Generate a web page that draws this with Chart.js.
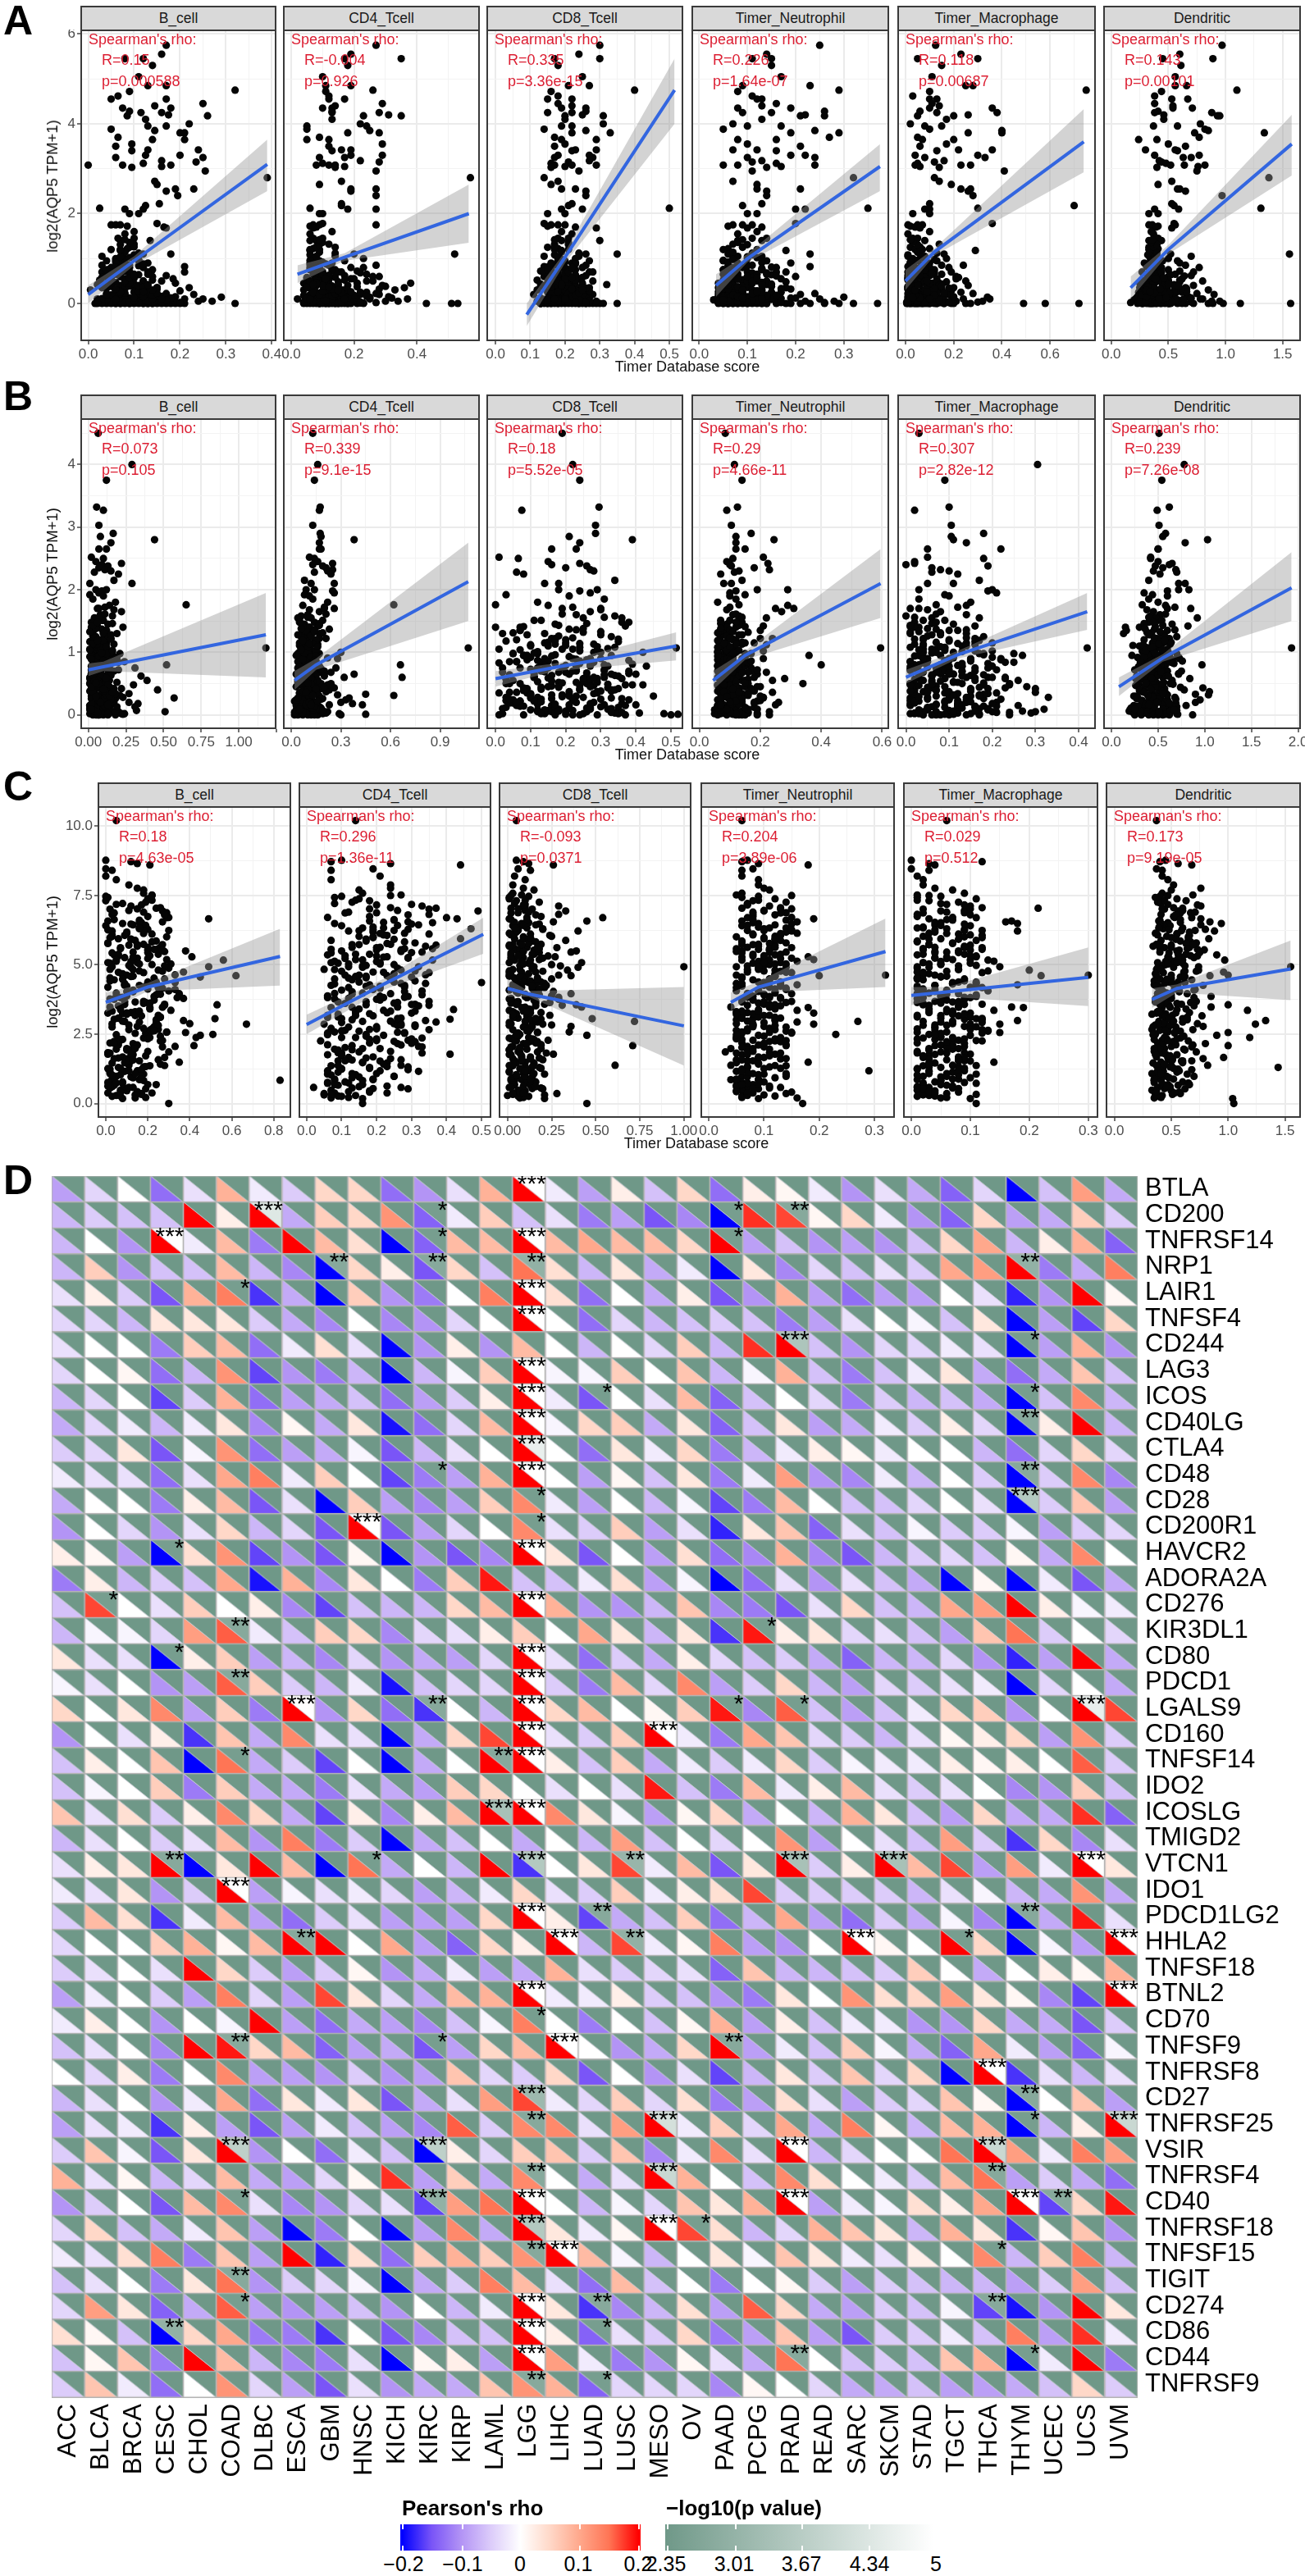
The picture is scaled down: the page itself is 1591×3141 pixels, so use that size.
<!DOCTYPE html>
<html>
<head>
<meta charset="utf-8">
<title>AQP5 immune correlation</title>
<script src="https://cdn.jsdelivr.net/npm/chart.js@4"></script>
<style>
  html, body { margin: 0; padding: 0; background: #fff; }
  #page { position: relative; width: 1591px; height: 3141px; overflow: hidden; font-family: "Liberation Sans", Arial, sans-serif; }
  #page canvas { position: absolute; }
  .txt { position: absolute; white-space: nowrap; line-height: 1; }
  .box { position: absolute; box-sizing: border-box; border: 2px solid #3a3a3a; }
  .strip { background: #d9d9d9; display: flex; align-items: center; justify-content: center; color: #1a1a1a;
           font: 17.5px "Liberation Sans Narrow", "Liberation Sans", sans-serif; }
</style>
</head>
<body>
<div id="page"></div>
<script>
// --- panel labels ---
const cellTypes = ['B_cell', 'CD4_Tcell', 'CD8_Tcell', 'Timer_Neutrophil', 'Timer_Macrophage', 'Dendritic'];
const rhoA = ['R=0.15', 'R=-0.004', 'R=0.335', 'R=0.226', 'R=0.118', 'R=0.143'];
const pA = ['p=0.000588', 'p=0.926', 'p=3.36e-15', 'p=1.64e-07', 'p=0.00687', 'p=0.00101'];
const rhoB = ['R=0.073', 'R=0.339', 'R=0.18', 'R=0.29', 'R=0.307', 'R=0.239'];
const pB = ['p=0.105', 'p=9.1e-15', 'p=5.52e-05', 'p=4.66e-11', 'p=2.82e-12', 'p=7.26e-08'];
const rhoC = ['R=0.18', 'R=0.296', 'R=-0.093', 'R=0.204', 'R=0.029', 'R=0.173'];
const pC = ['p=4.63e-05', 'p=1.36e-11', 'p=0.0371', 'p=3.89e-06', 'p=0.512', 'p=9.19e-05'];

// --- tick labels ---
const yTicksA = ['0', '2', '4', '6'];
const yTicksB = ['0', '1', '2', '3', '4'];
const yTicksC = ['0.0', '2.5', '5.0', '7.5', '10.0'];
const xTicksA = [['0.0','0.1','0.2','0.3','0.4'], ['0.0','0.2','0.4'], ['0.0','0.1','0.2','0.3','0.4','0.5'], ['0.0','0.1','0.2','0.3'], ['0.0','0.2','0.4','0.6'], ['0.0','0.5','1.0','1.5']];
const xTicksB = [['0.00','0.25','0.50','0.75','1.00'], ['0.0','0.3','0.6','0.9'], ['0.0','0.1','0.2','0.3','0.4','0.5'], ['0.0','0.2','0.4','0.6'], ['0.0','0.1','0.2','0.3','0.4'], ['0.0','0.5','1.0','1.5','2.0']];
const xTicksC = [['0.0','0.2','0.4','0.6','0.8'], ['0.0','0.1','0.2','0.3','0.4','0.5'], ['0.00','0.25','0.50','0.75','1.00'], ['0.0','0.1','0.2','0.3'], ['0.0','0.1','0.2','0.3'], ['0.0','0.5','1.0','1.5']];

// --- panel A samples: AQP5 value, then score for each cell type ---
const yA = [5.75,5.55,5.45,5.45,5.3,5.05,4.85,4.85,4.75,4.72,
4.62,4.55,4.55,4.45,4.4,4.35,4.35,4.28,4.25,4.25,
4.18,4.18,4.1,4.2,4,3.95,3.95,3.88,3.85,3.8,
3.8,3.7,3.65,3.65,3.55,3.5,3.42,3.42,3.4,3.3,
3.3,3.25,3.25,3.18,3.15,3.12,3.08,3.08,3.08,3.05,
3.03,2.95,2.8,2.72,2.65,2.55,2.55,2.5,2.4,2.22,
2.18,2.12,2.1,2.1,2,2,1.78,1.75,1.75,1.75,
1.72,1.7,1.68,1.6,1.55,1.45,1.45,1.4,1.4,1.32,
1.25,1.22,1.2,1.18,1.1,1.1,1.05,1.05,1,1,
.95,.95,.9,.9,.85,.85,.82,.8,.8,.75,
.75,.72,.7,.7,.65,.65,.62,.6,.6,.55,
.55,.52,.5,.5,.48,.45,.45,.42,.4,.4,
.38,.35,.35,.32,.3,.3,.28,.25,.25,.22,
.22,.2,.2,.18,.15,.15,.12,.12,.1,.1,
.08,.08,.05,.05,.05,.03,.03,.02,.02,0,
0,0,0,0,0,0,0,0,0,0,
0,0,0,0,0,0,0,0,0,0,
.1,.15,.2,.25,.3,.35,.4,.45,.5,.55,
.6,.7,.8,.05,.12,.18,.22,.28,.33,.37,
.42,.47,.52,.58,.64,.68,.05,.1,.14,.03,
.02,0,.04,0,.07,.03,0,.1,.01,.05,
.13,0,.06,.02,.09,.16,0,.04,.12,.01,
.19,.07,0,.23,.03,.11,.26,.05,0,.15,
.29,.08,.02,.18,.34,.06,.01,.21,.12,.38,
.04,.27,.09,.43,.16,.03,.31,.47,.07,.2,
.51,.11,.36,.02,.25,.56,.14,.41,.05,.61,
.3,.09,.66,.17,.46,.01,.71,.24,.53,.12,
.76,.33,.06,.58,.19,.81,.39,.03,.86,.27,
.63,.1,.91,.44,.22,.96,.68,.15,.49,.35,
1.02,.73,.28,.54,.08,1.08,.78,.4,.6,.18,
1.14,.84,.32,.65,.13,1.2,.88,.45,.7,.23,
1.26,.92,.5,.02,.37,1.31,.98,.57,.75,.3,
1.36,1.04,.62,.1,.42,1.42,1.12,.8,.26,.55];
const xA_bcell = [.17,.16,.08,.12,.14,.11,.17,.13,.32,.09,
.065,.05,.17,.25,.145,.075,.18,.09,.115,.16,
.085,.26,.125,.175,.22,.13,.17,.05,.145,.2,
.21,.065,.14,.21,.095,.06,.13,.24,.095,.2,
.125,.06,.25,.16,.235,.12,0,.075,.18,.16,
.095,.255,.39,.145,.15,.23,.19,.17,.195,.155,
.125,.025,.08,.12,.09,.11,.15,.05,.06,.07,
.085,.165,.17,.1,.08,.065,.1,.07,.135,.1,
.09,.085,.05,.07,.18,.12,.03,.1,.06,.08,
.04,.11,.07,.13,.03,.09,.21,.05,.12,.045,
.14,.08,.21,.03,.06,.1,.17,.04,.14,.185,
.08,.025,.12,.16,.05,.09,.19,.02,.07,.13,
.11,.03,.22,.15,.005,.06,.2,.1,.13,.04,
.17,.23,.07,.12,.05,.19,.09,.14,.02,.21,
.03,.11,.16,.06,.24,.08,.13,.04,.19,.015,
.03,.05,.07,.09,.11,.13,.15,.17,.19,.21,
.02,.04,.06,.08,.1,.12,.14,.16,.2,.32,
.05,.11,.08,.13,.06,.15,.1,.04,.12,.09,
.07,.13,.09,.15,.07,.11,.06,.14,.08,.1,
.12,.06,.14,.09,.11,.07,.27,.25,.29,.16,
.03,.06,.09,.12,.15,.05,.18,.08,.11,.02,
.14,.07,.1,.17,.04,.13,.09,.06,.16,.12,
.05,.11,.14,.08,.19,.03,.1,.07,.13,.17,
.06,.12,.09,.15,.04,.11,.08,.14,.18,.05,
.1,.07,.13,.03,.16,.09,.06,.12,.15,.04,
.08,.14,.11,.02,.07,.1,.17,.05,.13,.09,
.12,.06,.04,.15,.08,.11,.09,.14,.05,.18,
.07,.13,.1,.03,.12,.06,.09,.16,.08,.11,
.05,.14,.08,.1,.13,.06,.07,.12,.09,.15,
.09,.06,.12,.08,.17,.1,.05,.11,.07,.14,
.08,.11,.06,.13,.1,.07,.12,.09,.05,.15,
.1,.06,.08,.2,.12,.07,.11,.09,.04,.14,
.09,.07,.1,.16,.13,.08,.11,.06,.12,.05];
const xA_cd4 = [.27,.19,.17,.35,.18,.1,.11,.19,.26,.11,
.12,.17,.12,.29,.14,.13,.1,.13,.28,.13,
.23,.35,.13,.31,.22,.24,.05,.05,.25,.28,
.18,.09,.12,.05,.29,.12,.19,.16,.13,.19,
.29,.09,.17,.22,.28,.1,.08,.12,.14,.17,
.14,.27,.57,.16,.09,.19,.27,.19,.27,.16,
.16,.06,.27,.18,.1,.09,.1,.07,.09,.27,
.06,.08,.07,.13,.06,.1,.07,.08,.06,.12,
.14,.07,.09,.06,.2,.52,.08,.14,.07,.23,
.09,.17,.06,.13,.27,.12,.08,.19,.23,.06,
.14,.21,.09,.15,.07,.24,.17,.12,.28,.05,
.19,.1,.07,.26,.15,.04,.21,.12,.18,.08,
.3,.06,.14,.28,.04,.17,.1,.24,.08,.13,
.19,.07,.22,.04,.15,.11,.25,.09,.18,.02,
.12,.05,.2,.08,.16,.04,.1,.27,.06,.04,
.05,.07,.09,.11,.13,.15,.17,.19,.21,.23,
.06,.08,.1,.12,.14,.16,.18,.43,.51,.53,
.25,.31,.28,.22,.33,.36,.29,.38,.24,.2,
.26,.16,.09,.3,.32,.12,.27,.18,.07,.21,
.05,.11,.17,.14,.08,.22,.34,.37,.25,.04,
.05,.09,.13,.18,.07,.22,.11,.15,.06,.2,
.08,.12,.16,.04,.1,.24,.14,.07,.19,.11,
.06,.17,.09,.13,.21,.05,.12,.08,.15,.1,
.18,.07,.11,.14,.06,.09,.23,.13,.16,.05,
.1,.15,.08,.12,.2,.07,.11,.06,.17,.14,
.09,.13,.05,.19,.1,.08,.12,.15,.07,.11,
.16,.06,.09,.13,.08,.22,.1,.07,.12,.18,
.07,.14,.11,.05,.09,.08,.13,.16,.06,.1,
.12,.19,.07,.09,.14,.06,.08,.17,.11,.13,
.07,.09,.15,.11,.21,.06,.08,.1,.12,.2,
.09,.07,.13,.1,.18,.06,.11,.08,.14,.16,
.08,.1,.06,.22,.12,.09,.07,.11,.13,.15,
.1,.08,.12,.17,.07,.09,.14,.06,.19,.11];
const xA_cd8 = [.3,.24,.3,.17,.18,.25,.27,.21,.4,.16,
.18,.15,.22,.18,.22,.19,.26,.26,.22,.15,
.2,.31,.2,.25,.31,.22,.19,.14,.26,.33,
.22,.17,.29,.19,.2,.17,.23,.29,.22,.27,
.18,.17,.28,.27,.21,.16,.22,.17,.29,.2,
.16,.24,.14,.18,.16,.19,.23,.26,.26,.22,
.21,.5,.19,.25,.15,.2,.14,.16,.18,.2,
.15,.23,.29,.19,.22,.18,.21,.19,.3,.17,
.15,.18,.21,.19,.26,.35,.14,.24,.18,.23,
.2,.27,.16,.22,.18,.26,.14,.25,.19,.16,
.23,.13,.27,.18,.21,.15,.26,.2,.14,.24,
.17,.12,.22,.28,.19,.25,.15,.32,.18,.23,
.13,.27,.17,.21,.24,.12,.19,.26,.15,.22,
.18,.28,.11,.24,.16,.2,.13,.27,.19,.23,
.15,.26,.12,.21,.17,.25,.14,.19,.23,.13,
.14,.16,.18,.2,.22,.24,.26,.28,.15,.17,
.19,.21,.23,.25,.27,.29,.3,.31,.35,.13,
.19,.22,.17,.24,.2,.16,.25,.18,.23,.21,
.15,.28,.2,.14,.26,.19,.22,.27,.24,.17,
.21,.16,.18,.25,.23,.2,.29,.24,.18,.27,
.14,.18,.22,.16,.25,.2,.13,.23,.17,.27,
.19,.15,.21,.24,.14,.18,.26,.16,.2,.22,
.17,.23,.13,.19,.25,.15,.21,.18,.24,.16,
.2,.14,.22,.17,.26,.19,.15,.23,.18,.21,
.24,.16,.19,.13,.22,.17,.25,.2,.15,.23,
.18,.21,.14,.26,.16,.19,.23,.17,.2,.15,
.22,.18,.15,.24,.19,.21,.14,.17,.23,.2,
.16,.22,.18,.2,.25,.15,.19,.21,.17,.24,
.2,.17,.23,.15,.21,.18,.16,.22,.19,.25,
.18,.21,.16,.2,.24,.17,.22,.19,.15,.23,
.19,.16,.22,.18,.2,.17,.23,.15,.21,.24,
.17,.2,.18,.23,.16,.21,.19,.22,.15,.25,
.21,.18,.16,.2,.19,.17,.24,.22,.18,.15];
const xA_neut = [.25,.14,.11,.15,.15,.17,.23,.09,.29,.08,
.11,.12,.13,.16,.13,.19,.08,.26,.09,.15,
.21,.26,.13,.22,.07,.1,.17,.05,.24,.29,
.19,.27,.08,.16,.1,.21,.07,.12,.16,.19,
.22,.1,.24,.13,.11,.16,.05,.08,.24,.17,
.14,.11,.32,.07,.12,.12,.21,.14,.14,.13,
.09,.35,.2,.22,.1,.12,.2,.07,.09,.11,
.06,.13,.1,.12,.08,.11,.14,.08,.13,.07,
.09,.06,.12,.18,.23,.06,.08,.13,.1,.07,
.05,.14,.08,.19,.11,.06,.23,.09,.16,.05,
.13,.07,.18,.1,.05,.14,.08,.2,.11,.06,
.17,.05,.12,.09,.18,.07,.04,.14,.1,.06,
.15,.04,.08,.19,.11,.05,.13,.07,.17,.09,
.24,.06,.21,.12,.04,.15,.08,.19,.05,.11,
.03,.14,.07,.22,.05,.1,.16,.04,.26,.06,
.04,.05,.07,.09,.11,.13,.16,.18,.21,.23,
.06,.08,.1,.12,.14,.19,.26,.29,.32,.37,
.08,.12,.06,.15,.09,.18,.05,.11,.14,.07,
.1,.16,.07,.13,.2,.06,.09,.12,.17,.08,
.05,.13,.1,.07,.15,.11,.28,.25,.3,.04,
.04,.07,.1,.13,.05,.16,.08,.11,.06,.14,
.09,.05,.12,.07,.15,.04,.1,.13,.06,.08,
.11,.05,.14,.07,.09,.17,.04,.12,.06,.1,
.08,.13,.05,.16,.07,.11,.09,.04,.14,.06,
.1,.07,.12,.15,.05,.08,.13,.06,.11,.09,
.07,.14,.1,.04,.12,.06,.09,.13,.08,.16,
.11,.05,.08,.14,.06,.1,.07,.12,.09,.05,
.13,.08,.06,.11,.07,.15,.09,.05,.1,.12,
.06,.09,.13,.07,.11,.05,.14,.08,.1,.07,
.12,.06,.09,.08,.05,.11,.13,.07,.1,.14,
.07,.1,.06,.12,.09,.05,.08,.11,.07,.13,
.09,.06,.11,.17,.08,.1,.07,.12,.05,.09,
.08,.1,.07,.13,.06,.09,.11,.08,.12,.06];
const xA_macro = [.125,.23,.05,.3,.15,.11,.25,.28,.75,.1,
.03,.1,.13,.11,.14,.36,.1,.06,.38,.13,
.2,.05,.17,.26,.02,.15,.08,.1,.4,.4,
.26,.05,.07,.2,.17,.06,.22,.36,.13,.04,
.3,.08,.33,.16,.12,.05,.27,.23,.04,.06,
.14,.41,.12,.14,.19,.23,.27,.26,.28,.1,
.7,.3,.08,.1,.03,.1,.36,.01,.05,.07,
.02,.04,.06,.1,.01,.03,.05,.08,.04,.14,
.02,.1,.04,.29,.16,.06,.01,.08,.03,.17,
.13,.05,.02,.1,.24,.15,.01,.18,.04,.08,
.12,.06,.19,.02,.15,.03,.1,.21,.05,.13,
.01,.08,.25,.03,.17,.11,.02,.06,.26,.09,
.13,.04,.2,.01,.07,.15,.03,.23,.1,.05,
.28,.02,.16,.08,.01,.19,.11,.04,.24,.06,
.13,.02,.21,.09,.03,.3,.01,.15,.07,.02,
.005,.02,.04,.06,.08,.1,.13,.16,.2,.25,
.01,.03,.05,.07,.09,.12,.27,.49,.58,.72,
.03,.08,.12,.05,.18,.02,.1,.14,.07,.21,
.04,.01,.09,.16,.06,.13,.02,.19,.11,.03,
.15,.07,.01,.22,.05,.12,.32,.35,.34,.005,
.01,.05,.09,.13,.03,.17,.07,.11,.02,.15,
.06,.1,.01,.14,.04,.08,.19,.03,.12,.06,
.02,.09,.16,.05,.11,.01,.07,.13,.04,.2,
.08,.03,.12,.06,.18,.02,.1,.05,.14,.01,
.07,.11,.03,.15,.05,.09,.02,.13,.06,.17,
.04,.1,.01,.08,.12,.03,.06,.14,.05,.09,
.02,.11,.07,.16,.04,.01,.09,.13,.03,.06,
.05,.12,.02,.08,.04,.1,.15,.01,.07,.03,
.06,.13,.03,.09,.01,.05,.11,.02,.08,.04,
.07,.02,.1,.04,.14,.01,.06,.09,.03,.12,
.05,.08,.01,.11,.03,.07,.02,.1,.04,.16,
.06,.02,.09,.18,.03,.05,.12,.01,.08,.04,
.03,.07,.01,.1,.05,.02,.13,.06,.09,.04];
const xA_dc = [.97,.6,.45,.89,.61,.56,.56,.66,1.1,.44,
.38,.53,.67,.38,.54,.71,.54,.41,.38,.88,
.95,.93,.46,.46,.78,.37,.58,.82,.85,.73,
1.34,.77,.24,.4,.5,.65,.3,.56,.58,.77,
.38,.63,.7,.42,.44,.48,.52,.64,.82,.76,
.4,.75,1.38,.53,.41,.58,.6,.65,.97,.53,
.55,1.31,.38,.59,.41,.33,.55,.56,.33,.36,
.41,.39,.53,.35,.37,.41,.39,.33,.44,.37,
.33,.41,.35,.38,1.56,.52,.4,.7,.36,.5,
.58,.45,.29,.6,.37,.65,.31,.44,.77,.5,
.34,.6,.42,.27,.56,.39,.7,.32,.5,.62,
.41,.27,.8,.36,.6,.46,.25,.55,.72,.33,
.47,.25,.65,.38,.85,.3,.55,.44,.24,.75,
.4,.9,.28,.52,.36,.66,.22,.46,.8,.31,
.58,.2,.44,.95,.33,.7,.24,.52,.17,.34,
.23,.27,.31,.35,.39,.43,.47,.52,.58,.65,
.72,.85,.89,.98,1.13,1.57,.4,.5,.28,.62,
.36,.48,.3,.62,.42,.26,.55,.38,.5,.32,
.44,.72,.34,.58,.46,.28,.53,.4,.66,.37,
.49,.31,.6,.41,.52,.35,.88,.78,.68,.3,
.25,.33,.42,.51,.28,.6,.37,.46,.3,.55,
.38,.27,.49,.34,.63,.24,.44,.53,.31,.4,
.29,.47,.36,.56,.26,.41,.66,.33,.5,.23,
.43,.3,.52,.38,.28,.58,.35,.46,.7,.32,
.4,.27,.54,.34,.48,.25,.61,.37,.44,.31,
.5,.36,.29,.42,.57,.33,.26,.47,.39,.64,
.31,.45,.35,.52,.28,.4,.34,.55,.43,.3,
.37,.49,.32,.42,.27,.36,.59,.3,.41,.46,
.33,.44,.38,.29,.51,.35,.4,.31,.47,.36,
.34,.42,.3,.39,.56,.32,.37,.45,.35,.41,
.36,.31,.43,.35,.48,.33,.39,.3,.44,.38,
.37,.34,.41,.53,.32,.4,.36,.46,.35,.31,
.35,.38,.33,.42,.5,.36,.4,.37,.34,.39];

// --- panel B samples ---
const yB = [4.5,4,3.75,3.32,3.27,3.03,2.9,2.85,2.8,2.75,
2.65,2.65,2.52,2.5,2.45,2.42,2.4,2.38,2.35,2.32,
2.3,2.28,2.25,2.15,2.1,2.1,2,2,1.98,1.95,
1.92,1.9,1.85,1.8,1.76,1.75,1.72,1.7,1.68,1.65,
1.6,1.58,1.55,1.51,1.48,1.45,1.42,1.4,1.37,1.35,
1.32,1.3,1.28,1.25,1.22,1.2,1.17,1.15,1.13,1.1,
1.07,1.05,1.02,1,.98,.95,.92,.9,.87,.85,
.82,.8,.78,.75,.72,.7,.68,.65,.62,.6,
.58,.55,.52,.5,.48,.45,.42,.4,.38,.35,
.32,.3,.28,.25,.22,.2,.18,.15,.12,.1,
.08,.05,.03,.02,0,0,0,0,0,0,
.85,.8,.75,.7,.65,.6,.55,.5,.45,.4,
.35,.3,.25,.2,.15,.1,.05,.02,.95,.9,
1.05,.98,.78,.62,.48,.33,.22,.12,.06,.02,
1.3,1.15,1,.88,.72,.58,.44,.28,.16,.08,
1.55,1.4,1.22,1.08,.92,.68,.52,.36,.24,.04,
1.7,.82,.64,.46,.27,.14,.07,.02,.9,.55,
.75,.42,.31,.19,.11,.03,1.12,.86,.6,.37,
.7,.5,.26,.17,.09,.01,.95,.78,.63,.43,
1.35,1.2,1.02,.84,.66,.47,.34,.23,.13,.05,
.02,.05,0,.09,.14,.03,.18,0,.24,.07,
.28,.12,.33,.01,.38,.16,.43,.06,.47,.21,
.52,.1,.57,.26,.62,.04,.66,.3,.71,.15,
.76,.35,.81,.08,.86,.4,.91,.19,.96,.45,
1.01,.23,1.06,.5,1.11,.13,1.16,.55,1.21,.27,
1.26,.6,1.31,.02,1.36,.65,1.41,.32,1.46,.7,
1.51,.11,1.56,.75,1.61,.37,.8,.42,.85,.17,
.9,.48,.95,.06,1,.53,1.05,.25,1.1,.58,
.63,.14,.68,.34,.73,.44,.78,.04,.83,.54,
.88,.22,.93,.64,.98,.29,1.03,.69,1.08,.39,
1.13,.09,1.18,.74,1.23,.49,1.28,.79,1.33,.59,
1.38,.2,1.43,.84,1.48,.31,.89,.41,.94,.67,
.99,.16,1.04,.51,1.09,.77,1.14,.36,1.19,.87];
const xB_bcell = [.065,.29,.12,.055,.1,.07,.165,.08,.44,.15,
.07,.12,.02,.1,.05,.22,.09,.13,.07,.11,
.15,.04,.2,.17,.01,.29,.05,.12,.09,.07,
.01,.1,.03,.18,.65,.14,.11,.06,.17,.22,
.08,.16,.04,.1,.02,.13,.06,.23,.09,.12,
.03,.19,.11,.05,.15,.08,.01,.12,.17,.06,
1.18,.02,.1,.04,.14,.07,.18,.03,.11,.24,
.06,.52,.09,.31,.02,.16,.05,.13,.35,.08,
.03,.12,.19,.01,.3,.06,.22,.1,.04,.15,
.08,.02,.23,.11,.05,.17,.33,.03,.13,.07,
.01,.2,.09,.06,.03,.05,.07,.1,.13,.18,
.04,.12,.09,.17,.02,.07,.14,.05,.11,.46,
.03,.16,.08,.27,.01,.13,.06,.22,.1,.15,
.05,.21,.12,.02,.09,.18,.04,.14,.07,.24,
.1,.03,.16,.06,.2,.01,.11,.07,.14,.04,
.09,.02,.13,.05,.19,.08,.03,.12,.16,.06,
.07,.15,.04,.1,.57,.02,.32,.08,.18,.39,
.11,.05,.21,.09,.03,.14,.06,.17,.01,.12,
.04,.08,.18,.13,.06,.23,.1,.02,.15,.07,
.12,.05,.09,.2,.02,.11,.27,.14,.31,.51,
.01,.04,.07,.1,.13,.03,.16,.06,.09,.02,
.12,.05,.15,.08,.01,.11,.04,.18,.07,.03,
.1,.14,.06,.02,.09,.12,.05,.17,.08,.01,
.04,.11,.07,.13,.03,.16,.06,.1,.02,.14,
.08,.05,.12,.01,.09,.19,.04,.07,.15,.11,
.03,.06,.1,.13,.02,.08,.05,.12,.16,.04,
.09,.01,.07,.14,.11,.03,.06,.17,.1,.02,
.05,.13,.08,.04,.12,.07,.01,.15,.09,.06,
.03,.11,.05,.18,.08,.02,.13,.06,.1,.04,
.14,.07,.01,.09,.12,.05,.16,.03,.08,.11,
.06,.02,.1,.13,.04,.07,.15,.09,.01,.12,
.05,.08,.03,.11,.06,.14,.02,.1,.07,.04,
.09,.13,.01,.05,.12,.08,.03,.16,.06,.1];
const xB_cd4 = [.13,.16,.14,.175,.17,.13,.175,.18,.38,.17,
.17,.18,.11,.14,.16,.25,.13,.19,.21,.25,
.22,.14,.24,.08,.12,.26,.09,.14,.25,.26,
.08,.11,.13,.22,.62,.07,.2,.26,.11,.17,
.1,.06,.12,.19,.14,.08,.16,.11,.23,.07,
.13,.17,.1,.06,.21,.09,.14,.05,.16,.11,
1.07,.08,.12,.3,.17,.06,.1,.28,.14,.05,
.09,.66,.13,.27,.07,.11,.17,.38,.04,.32,
.1,.15,.06,.24,.12,.03,.18,.08,.14,.05,
.28,.11,.07,.17,.02,.13,.37,.09,.05,.15,
.03,.22,.1,.06,.02,.04,.07,.1,.16,.3,
.14,.05,.09,.2,.11,.67,.04,.13,.07,.23,
.06,.17,.1,.3,.03,.12,.08,.19,.14,.05,
.11,.04,.16,.08,.22,.45,.13,.06,.19,.03,
.09,.15,.05,.12,.18,.07,.25,.1,.43,.14,
.04,.11,.17,.08,.06,.24,.13,.09,.33,.02,
.2,.07,.15,.1,.35,.05,.12,.29,.08,.16,
.04,.13,.62,.08,.18,.06,.11,.15,.09,.21,
.13,.07,.19,.1,.05,.45,.03,.17,.12,.26,
.09,.15,.06,.12,.2,.08,.14,.04,.17,.11,
.04,.08,.12,.17,.06,.21,.1,.14,.03,.19,
.07,.11,.16,.05,.09,.23,.13,.06,.18,.1,
.04,.15,.08,.12,.2,.03,.11,.07,.14,.09,
.17,.05,.1,.13,.06,.08,.22,.12,.04,.15,
.09,.07,.11,.18,.05,.13,.08,.16,.1,.04,
.12,.06,.19,.09,.14,.03,.07,.11,.17,.08,
.05,.13,.1,.06,.21,.12,.08,.15,.04,.09,
.11,.07,.16,.05,.1,.13,.06,.18,.09,.12,
.04,.14,.08,.11,.06,.2,.1,.07,.13,.05,
.09,.16,.12,.04,.08,.11,.15,.06,.1,.07,
.13,.05,.09,.18,.07,.12,.04,.1,.14,.08,
.06,.11,.17,.09,.05,.13,.07,.1,.15,.04,
.08,.12,.06,.1,.16,.05,.11,.09,.07,.14];
const xB_cd8 = [.19,.22,.24,.295,.075,.285,.285,.21,.39,.24,
.16,.23,.01,.065,.15,.24,.16,.26,.2,.27,
.28,.06,.08,.34,.14,.18,.18,.29,.24,.27,
.03,.21,.31,.12,0,.15,.22,.19,.3,.27,
.23,.34,.36,.13,.38,.17,.37,0,.21,.07,
.25,.14,.3,.33,.16,.06,.35,.2,.28,.1,
.515,.01,.24,.42,.12,.33,.09,.22,.38,.04,
.17,.27,.43,.07,.31,.13,.02,.21,.35,.11,
.29,.05,.18,.26,.39,.15,.09,.24,.33,.01,
.19,.45,.12,.3,.07,.23,.36,.16,.03,.27,
.1,.2,.34,.14,.01,.08,.17,.24,.29,.5,
.06,.31,.15,.22,.4,.11,.26,.04,.18,.33,
.09,.23,.13,.28,.37,.02,.16,.25,.08,.3,
.19,.05,.32,.11,.42,.21,.07,.27,.15,.35,
.02,.14,.28,.09,.23,.36,.18,.03,.31,.12,
.25,.07,.17,.34,.1,.2,.29,.06,.38,.13,
.3,.24,.04,.16,.33,.08,.22,.48,.14,.27,
.12,.35,.19,.05,.26,.41,.1,.15,.31,.21,
.23,.03,.36,.12,.18,.52,.08,.27,.16,.32,
.07,.2,.29,.13,.38,.24,.1,.03,.17,.26,
.02,.12,.22,.32,.07,.17,.27,.37,.05,.15,
.25,.35,.1,.2,.3,.4,.08,.18,.28,.13,
.23,.33,.03,.16,.26,.36,.11,.21,.31,.06,
.19,.29,.39,.14,.24,.34,.09,.04,.17,.27,
.12,.22,.32,.07,.2,.3,.15,.25,.35,.1,
.18,.28,.05,.13,.23,.33,.08,.16,.26,.38,
.11,.21,.31,.02,.19,.29,.14,.24,.06,.17,
.27,.37,.09,.2,.3,.12,.22,.04,.15,.25,
.34,.07,.18,.28,.1,.13,.23,.33,.01,.16,
.26,.11,.21,.31,.05,.19,.29,.14,.24,.08,
.17,.27,.03,.12,.22,.32,.09,.2,.3,.15,
.25,.06,.18,.28,.36,.1,.23,.13,.16,.26,
.11,.21,.07,.19,.29,.14,.24,.04,.17,.12];
const xB_neut = [.085,.115,.14,.125,.09,.105,.17,.12,.245,.12,
.12,.15,.21,.11,.09,.225,.1,.105,.18,.23,
.13,.115,.07,.14,.105,.08,.19,.29,.12,.1,
.15,.1,.12,.06,.13,.29,.1,.25,.09,.27,
.11,.13,.22,.07,.14,.09,.21,.12,.08,.2,
.16,.1,.13,.07,.24,.11,.09,.18,.14,.07,
.595,.12,.21,.1,.08,.36,.15,.21,.11,.07,
.13,.4,.09,.17,.12,.06,.22,.19,.1,.08,
.28,.14,.07,.34,.11,.19,.09,.13,.06,.16,
.12,.08,.21,.1,.07,.26,.14,.06,.18,.09,
.05,.13,.08,.11,.06,.09,.12,.15,.19,.23,
.1,.14,.07,.17,.12,.06,.15,.09,.2,.11,
.08,.13,.1,.18,.07,.12,.16,.05,.09,.14,
.11,.17,.08,.13,.06,.1,.19,.07,.14,.09,
.08,.15,.12,.06,.19,.1,.07,.14,.25,.11,
.13,.09,.2,.07,.11,.16,.08,.24,.12,.06,
.31,.14,.1,.08,.21,.12,.07,.15,.09,.24,
.11,.07,.13,.18,.09,.16,.22,.08,.12,.1,
.14,.08,.1,.12,.19,.06,.11,.15,.13,.08,
.07,.12,.09,.16,.13,.1,.14,.2,.11,.23,
.07,.1,.13,.16,.08,.19,.11,.14,.06,.12,
.09,.15,.07,.11,.18,.08,.13,.1,.06,.14,
.12,.09,.16,.07,.11,.13,.08,.2,.1,.06,
.14,.09,.12,.07,.17,.1,.08,.13,.11,.15,
.06,.12,.09,.16,.08,.1,.14,.07,.11,.13,
.09,.18,.06,.12,.1,.08,.15,.11,.07,.13,
.1,.06,.14,.09,.12,.08,.11,.17,.07,.13,
.11,.08,.15,.1,.06,.12,.09,.14,.07,.1,
.13,.07,.11,.16,.09,.12,.06,.1,.14,.08,
.08,.12,.1,.07,.15,.09,.13,.11,.06,.17,
.12,.09,.07,.13,.1,.08,.14,.06,.11,.09,
.07,.1,.13,.08,.12,.16,.09,.11,.06,.14,
.11,.07,.09,.15,.1,.12,.08,.13,.06,.1];
const xB_macro = [.03,.305,.09,.1,.02,.105,.18,.105,.11,.14,
.05,.22,.05,.18,.02,.02,0,.19,.06,.08,
.1,.06,.12,.17,.05,.11,.03,.2,.19,.21,
.09,.1,.03,.15,.07,.14,.12,.01,.05,.08,
.14,0,.17,.09,.02,.11,.16,.03,.07,.12,
.01,.14,.06,.18,.04,.1,.16,.2,.02,.13,
.42,.07,.2,.11,.25,.27,.04,.15,.1,.01,
.19,.02,.13,.07,.21,.16,.03,.1,.06,.14,
.23,.04,.12,.01,.18,.09,.3,.05,.15,.02,
.11,.07,.33,.22,.03,.14,.01,.26,.09,.17,
.05,.2,.12,.02,.07,.1,.14,.17,.04,.24,
.01,.08,.16,.03,.11,.19,.06,.13,.28,.02,
.09,.15,.05,.21,.01,.12,.07,.17,.03,.1,
.04,.18,.13,.06,.24,.02,.09,.16,.27,.11,
.01,.14,.07,.22,.1,.03,.17,.05,.12,.19,
.06,.02,.16,.09,.2,.04,.11,.3,.14,.24,
.03,.13,.18,.07,.01,.21,.1,.15,.05,.26,
.08,.19,.02,.12,.05,.29,.16,.09,.23,.04,
.13,.01,.18,.07,.32,.11,.03,.2,.15,.06,
.1,.04,.16,.25,.08,.02,.19,.12,.06,.3,
.01,.04,.08,.12,.16,.02,.2,.06,.1,.03,
.14,.05,.18,.09,.01,.07,.23,.11,.03,.15,
.06,.19,.02,.1,.13,.04,.08,.17,.01,.12,
.05,.21,.09,.03,.15,.07,.11,.02,.18,.06,
.13,.01,.09,.24,.04,.12,.07,.16,.02,.1,
.05,.2,.08,.03,.14,.11,.01,.17,.06,.09,
.04,.13,.02,.19,.07,.1,.03,.15,.05,.12,
.22,.01,.08,.16,.04,.11,.06,.02,.14,.09,
.03,.18,.07,.12,.01,.05,.1,.21,.04,.08,
.15,.02,.11,.06,.17,.03,.09,.13,.01,.07,
.04,.19,.1,.02,.14,.06,.08,.12,.03,.16,
.05,.09,.01,.23,.07,.11,.04,.15,.02,.1,
.06,.13,.03,.18,.08,.01,.12,.05,.17,.09];
const xB_dc = [.51,.78,.54,.62,.49,.51,.58,.55,1.03,.79,
.5,.5,.42,.42,.5,.65,.62,.47,.55,.69,
.45,.7,.52,.4,.72,.79,.83,.72,.6,.35,
.44,.6,.4,.5,.33,.58,.68,.85,.38,.45,
.52,.42,.92,.5,.4,.65,.82,.3,.46,.6,
.38,.54,.42,.7,.49,.35,.58,.44,.63,.3,
1.93,.47,.33,.55,.42,.62,.28,.73,.4,.52,
.67,.97,.36,.5,.25,.6,.44,.72,.31,.55,
.84,.38,.48,.65,.29,.52,.43,.78,.35,.58,
1.04,.27,.68,.46,.33,.9,.55,.24,.42,.6,
.2,.5,.37,.7,.25,.4,.55,.62,.32,.87,
.45,.58,.3,.75,.52,.38,.65,.28,.48,.34,
.57,.24,.69,.4,.8,.3,.5,.62,.22,.44,
.36,.7,.53,.27,.43,.9,.6,.32,.19,.49,
.13,.55,.34,.66,.41,.26,.74,.46,.58,.3,
.48,.15,.62,.37,.72,.51,.29,.43,.95,.23,
.6,.35,.46,.28,.53,.65,.39,.25,.5,.41,
.31,.57,.44,.69,.21,.52,.34,.76,.47,1.05,
.4,.63,.27,.55,.36,.71,.48,.3,.59,.98,
.16,.5,.38,.64,.43,.26,.56,.33,.7,.45,
.25,.35,.45,.55,.65,.3,.4,.5,.6,.7,
.28,.38,.48,.58,.33,.43,.53,.63,.36,.46,
.56,.26,.41,.51,.61,.31,.72,.44,.54,.34,
.47,.57,.37,.67,.42,.52,.29,.62,.39,.49,
.59,.32,.44,.55,.23,.46,.64,.36,.5,.41,
.57,.3,.43,.52,.68,.38,.47,.6,.35,.45,
.54,.27,.4,.5,.58,.33,.48,.42,.63,.37,
.52,.44,.56,.31,.46,.38,.6,.41,.53,.34,
.49,.28,.43,.55,.36,.47,.39,.51,.32,.45,
.58,.41,.35,.5,.62,.44,.37,.53,.42,.3,
.48,.25,.56,.38,.46,.66,.4,.34,.52,.43,
.36,.49,.55,.31,.45,.39,.6,.42,.5,.33,
.47,.4,.54,.37,.44,.29,.51,.35,.57,.43];

// --- panel C samples ---
const yC = [10.2,8.77,8.72,8.65,8.6,8.46,8.41,8.2,8.07,7.88,
7.76,7.7,7.58,7.52,7.47,7.38,7.31,7.26,7.18,7.12,
7.04,7.01,6.94,6.88,6.82,6.71,6.66,6.58,6.55,6.49,
6.44,6.41,6.33,6.3,6.24,6.22,6.14,6.11,6.03,6.01,
5.94,5.88,5.86,5.79,5.74,5.71,5.63,5.62,5.54,5.5,
5.46,5.38,5.36,5.29,5.26,5.19,5.17,5.08,5.06,5.01,
4.93,4.91,4.84,4.81,4.74,4.72,4.63,4.61,4.56,4.49,
4.46,4.38,4.36,4.28,4.26,4.19,4.16,4.09,4.06,3.98,
3.96,3.88,3.86,3.79,3.76,3.68,3.66,3.58,3.56,3.48,
3.46,3.39,3.36,3.28,3.26,3.18,3.16,3.08,3.06,2.99,
2.96,2.88,2.86,2.78,2.76,2.69,2.66,2.58,2.56,2.49,
2.46,2.38,2.36,2.28,2.26,2.18,2.16,2.09,2.06,1.98,
1.96,1.88,1.86,1.78,1.76,1.68,1.66,1.58,1.54,1.49,
1.46,1.38,1.36,1.3,1.26,1.18,1.16,1.08,1.06,.98,
.96,.88,.86,.78,.76,.68,.66,.58,.56,.48,
.46,.38,.36,.29,.26,.2,.18,0,6.7,6.28,
5.92,5.58,5.32,5.03,4.78,4.53,4.31,4.04,3.82,3.54,
3.31,3.04,2.82,2.54,2.31,2.04,1.82,1.53,1.32,1.04,
6.52,6.06,5.73,5.44,5.13,4.88,4.59,4.33,4.11,3.83,
3.61,3.33,3.11,2.83,2.61,2.33,2.11,1.83,1.61,1.33,
5.56,5.24,4.96,4.64,4.23,3.94,3.64,3.24,2.94,2.64,
2.24,1.94,1.64,1.24,.84,.54,.31,.22,.27,.61,
7.43,5.12,2.33,.74,6.61,3.92,1.47,4.77,6.08,2.71,
.41,5.83,3.17,7.06,1.93,4.42,6.36,2.12,5.48,.93,
3.73,6.87,1.22,4.98,2.57,7.21,3.41,5.67,.63,4.18,
6.18,2.87,1.72,5.28,3.52,7.33,.33,4.68,2.43,6.47,
1.13,5.03,3.02,4.26,6.74,1.62,2.02,5.53,3.82,.83,
6.96,4.52,2.23,5.73,1.37,3.27,6.26,.53,4.83,2.67,
5.38,3.62,7.16,1.03,4.33,2.92,5.93,1.82,6.53,3.47,
.73,4.13,2.53,5.18,7.5,1.54,3.97,6.13,2.17,4.63,
.43,5.77,3.12,1.27,6.42,4.03,2.77,5.43,.98,3.67,
6.8,1.77,4.73,2.38,5.98,3.33,.68,4.48,1.98,5.23,
3.87,6.23,1.18,2.82,4.93,7.02,.38,3.22,5.58,2.27,
1.57,4.23,6.63,2.62,3.57,5.08,.88,4.58,1.42,3.07,
6.33,2.97,5.33,1.08,3.77,4.38,.58,6.9,2.48,5.63];
const xC_bcell = [.05,0,.12,.15,.21,0,.03,0,.05,.11,
.15,.18,.18,.22,0,.2,0,.19,.05,.12,
.24,.02,.27,.29,.03,.3,.49,.01,.27,.08,
.13,0,.19,.16,.3,.03,.1,.22,.03,.29,
.06,.14,.24,.01,.18,.11,.26,.07,.2,.38,
.13,.25,.04,.41,.09,.29,.56,.15,.02,.22,
.49,.12,.02,.25,.37,.18,.08,.62,.45,.28,
.04,.2,.33,.09,.16,.01,.27,.13,.3,.05,
.35,.1,.23,.37,.04,.18,.14,.28,.53,.02,
.21,.07,.31,.12,.01,.25,.17,.06,.52,.37,
.09,.4,.67,.15,.03,.22,.11,.29,.38,.51,
.45,.43,.18,.07,.26,.02,.13,.42,.33,.1,
.05,.2,.3,.01,.13,.08,.28,.25,.16,.35,
.03,.11,.21,.06,.01,.15,.09,.02,.18,.05,
.12,.03,.16,.08,.01,.2,.04,.13,.02,.07,
.1,.01,.17,.05,.03,.14,.08,.3,.29,.2,
.12,.25,.06,.31,.16,.02,.21,.1,.34,.28,
.14,.04,.24,.19,.08,.27,.01,.12,.18,.07,
.17,.09,.27,.2,.05,.3,.13,.23,.33,.08,
.18,.03,.26,.11,.22,.06,.15,.01,.1,.19,
.23,.15,.28,.33,.1,.26,.19,.08,.16,.21,
.04,.12,.06,.02,.83,.09,.14,.19,.07,.03,
.01,.12,.2,.05,.16,.24,.09,.27,.03,.18,
.07,.22,.14,.26,.1,.02,.19,.06,.28,.13,
.23,.04,.17,.11,.29,.08,.21,.15,.01,.25,
.1,.03,.19,.13,.06,.22,.17,.08,.26,.12,
.02,.16,.24,.09,.2,.04,.14,.27,.07,.18,
.11,.23,.05,.15,.28,.1,.01,.19,.13,.25,
.06,.21,.17,.03,.09,.24,.12,.02,.16,.27,
.08,.2,.14,.05,.22,.11,.25,.18,.04,.1,
.15,.01,.26,.07,.19,.13,.23,.03,.17,.09,
.28,.12,.06,.21,.02,.16,.24,.08,.14,.2,
.05,.18,.11,.25,.03,.15,.22,.1,.07,.27,
.13,.19,.04,.23,.09,.01,.17,.12,.26,.06,
.16,.08,.21,.14,.02,.24,.11,.18,.05,.2];
const xC_cd4 = [.14,.1,.07,.24,.44,.19,.07,.21,.07,.24,
.24,.15,.16,.27,.1,.15,.18,.13,.3,.33,
.37,.35,.49,.2,.35,.06,.43,.18,.29,.08,
.32,.1,.22,.47,.25,.12,.28,.35,.15,.19,
.44,.07,.17,.31,.24,.37,.13,.2,.27,.1,
.33,.18,.06,.23,.29,.14,.36,.21,.09,.25,
.32,.16,.05,.27,.19,.35,.11,.23,.3,.08,
.13,.25,.5,.18,.07,.28,.21,.1,.33,.16,
.24,.06,.29,.12,.2,.35,.09,.31,.17,.26,
.07,.42,.22,.14,.3,.06,.19,.27,.1,.34,
.16,.25,.05,.31,.12,.2,.35,.08,.28,.17,
.22,.1,.33,.29,.04,.18,.26,.13,.32,.21,
.08,.24,.15,.41,.06,.19,.12,.27,.09,.16,
.23,.27,.07,.18,.1,.21,.32,.13,.06,.25,
.15,.08,.19,.11,.06,.16,.09,.02,.13,.07,
.18,.08,.05,.14,.1,.07,.16,.16,.4,.29,
.25,.36,.2,.12,.31,.17,.08,.28,.22,.35,
.14,.41,.26,.06,.18,.33,.1,.21,.29,.14,
.36,.23,.13,.3,.08,.26,.17,.34,.19,.28,
.11,.24,.06,.31,.15,.2,.27,.09,.12,.23,
.07,.29,.16,.34,.21,.13,.26,.18,.37,.11,
.25,.13,.17,.1,.08,.19,.05,.12,.09,.15,
.08,.2,.3,.12,.25,.33,.16,.1,.22,.07,
.18,.28,.14,.24,.09,.31,.19,.06,.27,.13,
.21,.11,.29,.17,.26,.08,.15,.34,.23,.12,
.19,.27,.1,.22,.32,.14,.07,.25,.17,.3,
.09,.21,.13,.28,.18,.24,.11,.2,.06,.16,
.26,.12,.31,.15,.09,.23,.19,.29,.08,.18,
.14,.25,.2,.07,.27,.1,.17,.33,.22,.13,
.06,.19,.28,.16,.24,.11,.08,.21,.3,.15,
.12,.23,.09,.18,.26,.13,.2,.07,.25,.17,
.29,.1,.22,.14,.19,.31,.08,.24,.16,.11,
.21,.15,.06,.27,.12,.18,.23,.09,.28,.2,
.13,.17,.25,.1,.3,.07,.19,.14,.22,.26,
.16,.24,.11,.2,.08,.15,.27,.12,.06,.21];
const xC_cd8 = [.05,.05,.09,.12,.26,.06,.13,.04,.1,.03,
.09,.15,.03,.08,.12,.01,.05,.18,.1,.29,
.02,.14,.33,.06,.29,.11,.01,.45,.26,.08,
.16,.03,.11,.2,.06,.4,.01,.13,.25,.09,
.04,.33,.14,.07,.19,.01,.11,.28,.05,.39,
.36,.15,.02,.27,.09,.18,.04,.42,.12,.25,
1,.4,.07,.34,.16,.01,.29,.36,.1,.25,
.05,.19,.12,.03,.22,.08,.14,.01,.17,.06,
.36,.25,.1,.02,.29,.16,.05,.21,.39,.42,
.08,.13,.01,.19,.04,.24,.11,.06,.48,.15,
.72,.02,.2,.36,.09,.13,.03,.35,.17,.07,
.45,.12,.01,.23,.05,.16,.09,.71,.03,.19,
.11,.06,.17,.26,.02,.13,.08,.2,.04,.1,
.15,.61,.03,.18,.07,.12,.01,.09,.21,.05,
.14,.02,.08,.16,.11,.04,.13,.01,.19,.06,
.1,.03,.28,0,.12,.07,.21,.45,.54,.2,
.09,.04,.23,.13,.01,.17,.07,.26,.11,.31,
.03,.19,.1,.06,.15,.02,.22,.08,.14,.05,
.12,.24,.03,.18,.08,.14,.01,.21,.06,.29,
.16,.09,.04,.25,.12,.02,.19,.07,.13,.1,
.07,.2,.3,.02,.15,.1,.24,.05,.17,.11,
.13,.01,.18,.08,.04,.14,.21,.09,.06,.16,
.01,.08,.14,.03,.11,.18,.05,.2,.02,.12,
.07,.16,.04,.1,.01,.13,.06,.19,.09,.03,
.15,.02,.11,.07,.17,.04,.12,.01,.09,.21,
.05,.14,.08,.02,.16,.1,.03,.12,.06,.18,
.01,.09,.13,.05,.19,.03,.07,.15,.11,.02,
.1,.04,.17,.08,.01,.13,.06,.2,.03,.11,
.14,.02,.09,.05,.16,.01,.12,.07,.04,.1,
.03,.18,.06,.13,.02,.08,.15,.04,.11,.01,
.07,.12,.03,.19,.09,.05,.14,.02,.1,.06,
.16,.01,.08,.04,.13,.11,.03,.17,.07,.02,
.12,.05,.1,.01,.15,.06,.09,.03,.18,.04,
.08,.14,.02,.11,.05,.01,.13,.07,.03,.16,
.04,.1,.06,.15,.01,.09,.02,.12,.05,.17];
const xC_neut = [.06,.07,.06,.09,.18,.08,.06,.06,.09,.09,
.1,.11,.06,.05,.09,.12,.08,.14,.07,.11,
.06,.13,.1,.14,.08,.15,.19,.06,.16,.09,
.12,.06,.14,.1,.07,.15,.16,.08,.12,.05,
.1,.13,.06,.14,.09,.12,.07,.15,.11,.06,
.14,.08,.12,.18,.1,.19,.06,.13,.08,.11,
.05,.14,.09,.12,.07,.15,.32,.2,.06,.11,
.08,.13,.1,.16,.06,.11,.14,.09,.05,.12,
.15,.07,.11,.13,.08,.15,.06,.1,.12,.04,
.18,.09,.16,.07,.19,.11,.06,.13,.08,.12,
.27,.05,.19,.1,.14,.07,.12,.06,.11,.23,
.09,.13,.05,.08,.12,.06,.1,.14,.07,.04,
.11,.08,.03,.12,.06,.09,.1,.05,.07,.18,
.09,.04,.14,.07,.1,.29,.05,.08,.1,.06,
.07,.09,.04,.1,.06,.08,.05,.07,.11,.06,
.05,.08,.14,.07,.06,.16,.09,.17,.07,.1,
.12,.05,.08,.14,.1,.06,.13,.09,.11,.07,
.05,.12,.08,.15,.06,.1,.13,.07,.11,.09,
.08,.13,.06,.11,.16,.09,.12,.05,.14,.07,
.1,.06,.12,.08,.14,.05,.09,.11,.13,.07,
.09,.15,.07,.12,.06,.1,.14,.08,.16,.05,
.11,.07,.09,.06,.05,.08,.1,.06,.12,.05,
.06,.09,.12,.07,.14,.1,.05,.13,.08,.11,
.15,.06,.1,.13,.07,.11,.09,.14,.05,.12,
.08,.13,.06,.1,.15,.07,.12,.09,.11,.05,
.14,.08,.11,.06,.13,.09,.07,.12,.1,.15,
.07,.12,.05,.1,.08,.14,.06,.11,.13,.09,
.1,.06,.13,.08,.12,.05,.15,.09,.07,.11,
.13,.09,.07,.14,.06,.1,.12,.05,.08,.11,
.09,.12,.06,.11,.15,.08,.07,.13,.1,.05,
.05,.11,.09,.13,.07,.12,.08,.06,.14,.1,
.12,.07,.14,.05,.1,.09,.06,.11,.08,.13,
.08,.1,.06,.12,.09,.15,.07,.05,.11,.14,
.06,.13,.08,.07,.11,.1,.05,.12,.09,.06,
.11,.07,.1,.14,.06,.09,.13,.08,.05,.12];
const xC_macro = [.06,0,.12,.03,.04,0,.03,.01,.02,.02,
.04,.07,.09,.01,.05,.11,.03,.08,.06,.1,
.215,.02,.05,.09,.01,.07,.03,.17,.16,.18,
.04,.1,.01,.06,.12,.18,.03,.08,.02,.09,
.05,.11,.01,.07,.03,.1,.04,.12,.02,.08,
.06,.09,.01,.11,.04,.07,.13,.02,.1,.05,
.15,.03,.08,.2,.01,.12,.3,.22,.05,.09,
.02,.11,.07,.18,.04,.1,.01,.06,.13,.03,
.08,.05,.11,.01,.09,.04,.07,.12,.02,.17,
.19,.06,.14,.03,.1,.01,.08,.05,.11,.18,
.02,.07,.15,.09,.04,.01,.12,.06,.15,.03,
.1,.05,.02,.08,.12,.01,.06,.04,.09,.03,
.07,.01,.05,.1,.03,.08,.02,.06,.09,.14,
.04,.07,.02,.05,.01,.09,.03,.06,.11,.02,
.05,.08,.01,.04,.09,.02,.06,.03,.07,.01,
.04,.02,.06,.03,.01,.05,.1,.11,.11,.09,
.08,.02,.11,.05,.13,.01,.07,.04,.1,.03,
.06,.09,.02,.12,.04,.07,.01,.1,.03,.08,
.05,.12,.03,.08,.14,.01,.06,.11,.04,.09,
.02,.07,.1,.04,.13,.01,.05,.09,.03,.08,
.12,.04,.08,.02,.11,.06,.01,.09,.05,.13,
.07,.03,.09,.01,.05,.08,.02,.06,.04,.01,
.01,.05,.09,.02,.07,.11,.03,.06,.1,.04,
.08,.01,.05,.12,.03,.09,.02,.07,.04,.1,
.06,.02,.08,.11,.01,.05,.03,.09,.07,.12,
.04,.1,.02,.06,.08,.01,.11,.03,.05,.09,
.07,.03,.12,.04,.01,.08,.06,.1,.02,.05,
.09,.01,.06,.03,.11,.07,.04,.02,.08,.1,
.02,.05,.09,.01,.07,.12,.03,.06,.04,.08,
.11,.02,.05,.1,.03,.08,.01,.06,.09,.04,
.03,.07,.01,.09,.05,.02,.11,.04,.06,.08,
.1,.04,.02,.07,.12,.03,.05,.01,.08,.06,
.05,.09,.03,.06,.01,.1,.04,.07,.02,.11,
.08,.01,.06,.04,.09,.02,.07,.05,.03,.12,
.02,.07,.1,.03,.05,.08,.01,.06,.04,.09];
const xC_dc = [.37,.45,.4,.56,.68,.37,.42,.42,.47,.52,
.76,.5,.42,.69,.4,.55,.63,.38,.47,.76,
.6,.44,.56,.67,.41,.53,.76,.39,.84,.94,
.76,.49,.6,.43,.71,.88,.36,.55,.46,.65,
.83,.41,.58,.72,.37,.5,.66,.44,.79,.55,
.4,.63,.9,.47,.7,.56,.97,.38,.6,.45,
1.55,.52,.37,.74,.96,.43,1,.84,.58,.4,
.68,.48,.62,.35,.78,.53,.41,.7,.57,.46,
.64,.38,.85,.5,.44,.72,.36,.59,1,.85,
.42,.55,1.17,.66,.37,.51,.77,.45,.6,1.33,
.39,.73,1.24,.78,.54,.41,.69,.47,1,.36,
.9,1.19,.58,.42,.65,.38,.8,1,.5,.44,
.61,.35,.72,.45,.55,.37,.96,.48,.6,.41,
.34,.82,.5,1.44,.39,.57,.43,.33,.64,.46,
.37,.52,.41,.6,.35,.47,.56,.38,.44,.33,
.5,.36,.58,.42,.39,.35,1.04,1.05,.68,.8,
.54,.4,.73,.46,.62,.37,.56,.43,.7,.48,
.38,.61,.45,.53,.35,.68,.42,.59,.49,.36,
.47,.66,.4,.75,.52,.38,.6,.44,.71,.5,
.55,.41,.64,.36,.58,.46,.69,.39,.51,.43,
.73,.48,.62,.37,.55,.42,.67,.45,.6,.4,
.52,.38,.47,.56,.35,.44,.36,.41,.37,.49,
.36,.45,.55,.65,.4,.5,.6,.72,.38,.47,
.57,.67,.42,.52,.62,.35,.44,.54,.75,.48,
.37,.58,.68,.43,.53,.41,.63,.34,.46,.56,
.66,.39,.49,.59,.7,.44,.51,.36,.61,.42,
.55,.47,.64,.38,.52,.78,.4,.57,.45,.35,
.6,.5,.43,.69,.37,.54,.48,.62,.41,.33,
.56,.46,.73,.39,.51,.44,.65,.36,.58,.49,
.42,.53,.35,.6,.47,.68,.38,.55,.43,.5,
.37,.63,.45,.52,.4,.57,.34,.48,.7,.41,
.54,.36,.61,.44,.5,.39,.66,.46,.35,.56,
.43,.59,.38,.49,.74,.42,.53,.33,.64,.47,
.51,.37,.58,.45,.4,.55,.35,.62,.44,.48,
.39,.52,.67,.41,.36,.56,.46,.71,.34,.5];

// --- fitted lines: x at start, mid and end, then fit, lower and upper limit there ---
const fitA = [
  [[0,.1,.39],[.2,.95,3.1],[0,.85,2.5],[.4,1.05,3.65]],
  [[.02,.17,.565],[.65,1.03,2],[.45,.95,1.35],[.85,1.12,2.65]],
  [[.09,.2,.515],[-.25,1.03,4.75],[-.5,.9,4],[0,1.15,5.45]],
  [[.035,.1,.375],[.4,1,3.05],[.15,.92,2.5],[.65,1.1,3.55]],
  [[0,.12,.74],[.5,1.15,3.6],[.3,1.07,2.92],[.75,1.23,4.33]],
  [[.17,.5,1.58],[.35,1.2,3.55],[.1,1.1,2.85],[.6,1.3,4.2]]];
const fitB = [
  [[0,.1,1.18],[.72,.77,1.28],[.62,.7,.6],[.82,.85,1.95]],
  [[.02,.15,1.07],[.55,.8,2.13],[.4,.72,1.5],[.7,.9,2.75]],
  [[0,.17,.515],[.58,.76,1.1],[.45,.7,.87],[.7,.82,1.32]],
  [[.045,.15,.595],[.55,.95,2.1],[.4,.88,1.55],[.7,1.02,2.65]],
  [[0,.12,.42],[.6,.96,1.65],[.5,.9,1.36],[.72,1.02,1.95]],
  [[.08,.55,1.93],[.45,.91,2.03],[.3,.85,1.5],[.6,.97,2.6]]];
const fitC = [
  [[0,.2,.83],[3.65,4.2,5.3],[3.3,4.05,4.25],[4,4.35,6.3]],
  [[0,.22,.505],[2.85,4.3,6.1],[2.5,4.1,5.4],[3.2,4.5,6.7]],
  [[0,.12,1],[4.15,3.95,2.8],[3.85,3.85,1.37],[4.5,4.05,4.2]],
  [[.04,.09,.32],[3.65,4.2,5.48],[3.35,4,4.2],[4,4.4,6.67]],
  [[0,.06,.3],[3.9,4.02,4.55],[3.55,3.85,3.51],[4.2,4.2,5.63]],
  [[.33,.55,1.55],[3.75,4.15,4.85],[3.45,4,3.73],[4.15,4.3,5.88]]];

// --- heatmap labels ---
const cancers = ['ACC','BLCA','BRCA','CESC','CHOL','COAD','DLBC','ESCA','GBM','HNSC','KICH','KIRC','KIRP','LAML','LGG','LIHC','LUAD','LUSC','MESO','OV','PAAD','PCPG','PRAD','READ','SARC','SKCM','STAD','TGCT','THCA','THYM','UCEC','UCS','UVM'];
const genes = ['BTLA','CD200','TNFRSF14','NRP1','LAIR1','TNFSF4','CD244','LAG3','ICOS','CD40LG','CTLA4','CD48','CD28','CD200R1','HAVCR2','ADORA2A','CD276','KIR3DL1','CD80','PDCD1','LGALS9','CD160','TNFSF14','IDO2','ICOSLG','TMIGD2','VTCN1','IDO1','PDCD1LG2','HHLA2','TNFSF18','BTNL2','CD70','TNFSF9','TNFRSF8','CD27','TNFRSF25','VSIR','TNFRSF4','CD40','TNFRSF18','TNFSF15','TIGIT','CD274','CD86','CD44','TNFRSF9'];

// Pearson's rho x 100, one row per gene
const rhoPct = [
[-9,-4,0,-13,-3,9,-2,-5,5,5,-13,-10,-3,9,20,-2,-9,2,-6,5,-13,2,1,-2,-10,-3,-8,-14,-4,-20,-6,11,-8],
[-7,-5,-6,-6,20,2,20,-8,6,5,12,-14,-2,6,-6,-3,-12,-9,-15,-11,-20,18,17,1,5,-2,-10,-14,5,-9,-8,6,-5],
[-7,0,-10,20,-2,8,-12,20,8,4,-20,-14,8,8,20,8,10,8,8,5,20,-9,-6,-10,-9,-10,-6,5,10,-7,2,9,-14],
[-7,6,-10,-6,-6,8,-7,-11,-20,5,2,-15,5,-6,15,4,-7,3,-8,-2,-20,3,-11,-4,-6,-3,-5,10,11,20,-12,-8,14],
[-3,2,-5,-15,9,14,-17,-8,-20,6,-10,-12,0,14,20,4,-13,0,-8,2,-15,-10,9,-9,-13,-9,-9,0,-3,-18,-10,20,1],
[-4,-4,-7,3,3,3,-5,-8,-11,0,-11,-10,-4,0,20,0,-13,-4,-7,-6,-5,-6,-12,-9,-3,0,-1,-6,3,-20,-9,-16,5],
[-3,0,0,-12,6,8,-13,-2,4,-3,-20,-10,2,-10,8,0,-7,0,-4,6,-7,18,20,-6,-10,-4,-4,-2,-3,-20,-9,9,-10],
[-4,0,1,-13,-7,12,-16,-10,-12,-7,-20,-7,-1,6,20,-1,-1,6,0,7,-7,-1,9,-6,-12,-6,-2,3,-8,-13,-8,7,-6],
[-7,-4,0,-16,-5,9,-13,-9,-8,-6,-13,-9,-5,2,20,-2,-15,0,-3,8,-14,-6,0,-4,-12,-5,-7,-6,-8,-20,-6,13,-7],
[-8,-4,-2,-7,-2,3,-11,1,-8,3,-19,-13,-4,8,20,-1,5,6,-8,3,-14,-6,3,-9,-8,-2,-5,2,-4,-20,2,20,-7],
[-5,-4,3,-15,-1,12,-13,-9,-8,-1,-15,-7,-3,0,20,0,-13,3,-2,5,-12,-7,-2,2,1,-2,0,0,-7,-13,-4,5,-4],
[-2,-3,-3,-13,-3,10,14,-2,6,0,-16,-12,-9,9,20,0,-9,1,-6,3,-12,-2,11,-10,-11,-2,-7,0,-5,-20,-5,13,-11],
[-8,0,0,-12,2,8,-15,-3,-20,6,-9,-11,-9,6,13,-2,-9,0,-7,-1,-16,-12,8,0,-6,-6,-4,0,-3,-20,-5,7,-9],
[-10,0,-4,-10,-3,5,-7,-4,-15,20,-15,-9,-4,0,13,-3,-5,6,-9,-3,-18,3,7,-14,-3,-6,-1,-5,-5,-1,-9,-5,-4],
[2,1,-9,-20,4,12,-16,-10,-15,1,-20,-10,-15,-11,20,3,-15,0,-9,4,-13,-11,9,-11,-15,-7,-5,-4,-6,1,-8,13,0],
[-12,2,-7,-5,-6,10,-19,9,-11,3,0,-12,6,19,-6,-6,-2,4,-9,-1,-20,-13,-3,-10,-3,-6,-8,-20,1,-20,-2,-15,-8],
[-6,17,0,-3,6,0,2,-11,-16,-6,-7,-7,5,8,20,9,-10,-10,-7,7,-11,-12,-15,-3,5,-6,-7,10,11,20,2,-1,-2],
[-7,-1,-1,-4,11,16,-2,-6,6,5,-11,-4,-3,2,6,0,10,3,-7,3,-17,19,2,3,-4,-3,-6,-9,7,15,-5,0,-4],
[3,-3,-3,-20,2,6,-9,-7,-11,-4,-10,-8,-9,-4,20,-3,-13,-5,-8,2,-4,-6,-5,-8,-14,-7,-7,-4,-10,-18,-9,20,-8],
[-1,-3,0,-10,-9,16,6,-5,-7,-2,-19,-6,-4,-4,20,-5,-12,8,-4,13,-9,-5,5,-7,-9,-4,-5,-3,-2,-20,-4,0,-8],
[5,0,3,13,-9,6,-12,20,-10,5,-13,-17,0,-7,20,5,8,0,1,6,19,-11,16,-6,-9,-6,-2,5,6,-10,0,20,17],
[-10,0,-3,2,-17,7,-8,13,-3,-3,-20,-8,5,17,20,-3,-5,6,20,-2,-12,10,7,-4,-5,-7,-3,1,2,5,-9,12,-5],
[-6,2,0,7,-20,15,-8,-5,-16,0,-20,-8,0,20,20,2,-6,6,-8,-2,-5,-2,5,-5,-1,-2,-2,2,1,2,0,16,-5],
[-6,-1,0,6,-12,6,-8,-8,-12,-3,-8,-9,6,5,0,-3,0,-3,19,-6,-12,8,-2,2,8,-3,-5,-3,0,-11,-10,6,-6],
[7,-3,4,-5,2,13,5,-8,-16,2,-11,2,8,20,20,13,3,-1,-9,1,5,-8,0,-7,9,3,-6,-9,5,-8,-8,18,-14],
[-7,-3,0,-5,-3,8,-10,14,-12,-5,-20,-8,-6,0,-8,0,-7,11,-6,0,-4,0,12,-9,0,-3,-6,11,-5,-17,5,-11,-3],
[-3,2,3,20,-20,3,20,8,-20,15,-8,0,-7,20,-17,0,3,17,-2,8,-15,3,20,-5,2,20,8,17,-9,11,-2,20,3],
[-2,-3,3,-10,-5,20,-9,-1,-3,-2,-4,-9,-7,-2,5,-3,-5,6,-2,2,4,17,-5,-5,-5,-5,-7,-3,-1,-7,-8,12,-8],
[-5,8,4,-17,-2,8,-9,-13,-5,-3,-9,-9,-9,5,20,2,-16,-8,-6,6,-13,-7,10,-9,-13,-5,-8,-1,-11,-20,-8,19,-3],
[-4,0,0,6,9,1,8,20,20,0,10,-9,-14,5,2,20,-7,17,-2,1,14,-9,-10,0,20,1,0,20,5,-20,-1,-9,20],
[-5,-3,0,-3,20,5,-5,-9,-5,1,-10,-8,-2,-9,-8,9,-3,-5,-4,-3,-14,7,-7,-7,-6,-5,6,0,-8,0,2,1,9],
[-9,-2,0,-5,-9,14,-4,-9,17,3,-4,-8,8,9,20,-2,-2,2,-5,-6,-10,-12,3,0,12,4,5,11,3,1,-11,-16,20],
[-2,2,0,-10,0,-1,20,-9,-13,-8,-9,-11,-6,-1,14,0,-12,0,-6,1,9,-9,2,-6,-2,-2,-10,-10,5,-8,-8,-15,-5],
[-6,-3,0,-11,20,19,5,8,-14,-9,-8,-15,-9,5,8,20,0,-10,-8,5,20,-9,-2,-6,6,-1,-8,-14,10,-2,-9,-14,-1],
[0,-4,2,-12,0,13,-9,-9,-10,-5,-10,-9,7,-4,-5,5,-15,0,-10,-3,-16,-7,3,-5,7,-4,5,-20,20,-17,-3,-7,-3],
[-7,-3,0,-10,-2,10,-13,3,-2,3,-15,-8,-3,11,17,-2,-4,6,-4,4,-12,-9,4,-3,-9,-5,-4,7,1,-20,0,7,-9],
[-9,-3,-2,-17,2,-9,-15,-9,-2,-6,-9,-11,16,-5,13,13,-3,11,20,-2,6,-4,10,-8,14,1,-7,8,9,-20,-7,2,20],
[-5,7,-1,-15,3,20,-10,0,-13,-2,-6,-20,2,-4,6,7,-5,7,-11,-2,13,-3,20,-7,-4,0,0,15,20,11,-2,14,11],
[9,-3,1,-7,-4,8,-8,-9,-4,1,18,-9,6,-8,13,0,-8,-3,20,9,0,-6,13,4,0,-2,-5,8,15,-9,-5,-8,-13],
[-10,-5,0,-15,8,13,-3,-11,-10,-4,-3,-16,11,15,20,0,-7,-1,-4,7,3,9,20,-9,-2,-1,4,2,10,20,-16,5,19],
[-4,5,-6,-8,-2,7,-9,-20,-12,0,-20,-9,13,-8,20,3,-2,1,20,17,4,-7,-4,9,7,3,-7,9,3,-17,1,7,-10],
[-2,-3,4,14,-12,7,-9,20,-18,4,-13,6,9,6,12,20,8,-1,-7,0,3,-1,7,3,-2,-3,2,0,13,-7,6,14,-7],
[-6,-3,0,-12,3,15,-10,-5,-4,-1,-20,-8,-5,14,8,-3,-13,8,-6,0,-12,0,1,-5,-9,-5,-6,-7,-7,-9,-5,11,-6],
[-4,11,3,-14,-8,16,-9,-10,-9,-6,-10,0,-7,-2,20,3,-17,-11,-7,4,-9,16,5,-8,-9,-5,-6,-1,-16,-19,-10,20,3],
[4,1,-6,-20,5,10,-12,-12,-17,0,-15,-11,-6,-6,20,2,-14,-3,-5,5,-12,-9,7,-9,-15,-5,-5,-2,-6,14,-9,18,-2],
[-6,1,7,-12,20,8,-7,-11,-12,-3,-20,1,2,-9,20,11,-2,-12,-10,1,-3,-8,15,0,-6,-5,-6,7,9,-20,-2,20,-12],
[-5,7,-2,-13,0,12,-4,-9,-15,-3,-10,-8,-8,7,12,9,-14,-4,-4,-4,-11,1,0,-4,-8,-8,-6,-9,-9,-8,-6,5,-5]];

// significant cells: gene index, cancer index, stars, -log10(p)
const sigCells = [
[0,14,3,5],[1,6,3,4.4],[1,11,1,2.5],[1,20,1,2.5],[1,22,2,2.8],[2,3,3,5],[2,11,1,2.5],[2,14,3,5],[2,20,1,2.5],
[3,8,2,2.8],[3,11,2,2.8],[3,14,2,3],[3,29,2,3],[4,5,1,2.5],[4,14,3,5],[5,14,3,5],[6,22,3,3.5],[6,29,1,2.5],
[7,14,3,5],[8,14,3,5],[8,16,1,2.5],[8,29,1,2.5],[9,14,3,5],[9,29,2,2.8],[10,14,3,4.6],[11,11,1,2.5],[11,14,3,5],
[11,29,2,2.8],[12,14,1,2.5],[12,29,3,3.6],[13,9,3,5],[13,14,1,2.5],[14,3,1,2.5],[14,14,3,5],[16,1,1,2.5],[16,14,3,5],
[17,5,2,2.8],[17,21,1,2.5],[18,3,1,2.5],[18,14,3,5],[19,5,2,2.8],[19,14,3,5],[20,7,3,5],[20,11,2,2.8],[20,14,3,5],
[20,20,1,2.5],[20,22,1,2.5],[20,31,3,4.6],[21,14,3,5],[21,18,3,5],[22,5,1,2.5],[22,13,2,2.8],[22,14,3,5],[24,13,3,3.4],
[24,14,3,5],[26,3,2,2.8],[26,9,1,2.5],[26,14,3,3.6],[26,17,2,3.1],[26,22,3,3.4],[26,25,3,3.4],[26,31,3,5],[27,5,3,5],
[28,14,3,5],[28,16,2,2.8],[28,29,2,2.8],[29,7,2,2.8],[29,15,3,5],[29,17,2,3],[29,24,3,5],[29,27,1,2.5],[29,32,3,5],
[31,14,3,5],[31,32,3,5],[32,14,1,2.5],[33,5,2,2.8],[33,11,1,2.5],[33,15,3,5],[33,20,2,2.8],[34,28,3,5],[35,14,3,3.2],
[35,29,2,2.8],[36,14,2,2.8],[36,18,3,4.2],[36,29,1,2.5],[36,32,3,4],[37,5,3,3.8],[37,11,3,3.8],[37,22,3,5],[37,28,3,4],
[38,14,2,2.8],[38,18,3,4],[38,28,2,2.8],[39,5,1,2.5],[39,11,3,3],[39,14,3,5],[39,22,3,5],[39,29,3,5],[39,30,2,2.8],
[40,14,3,3.6],[40,18,3,5],[40,19,1,2.5],[41,14,2,2.8],[41,15,3,5],[41,28,1,2.5],[42,5,2,2.8],[43,5,1,2.5],[43,14,3,5],
[43,16,2,2.8],[43,28,2,2.8],[44,3,2,3],[44,14,3,5],[44,16,1,2.5],[45,14,3,5],[45,22,2,2.8],[45,29,1,2.5],[46,14,2,2.8],[46,16,1,2.5]];

// legend
const rhoLegendLabels = ['\u22120.2', '\u22120.1', '0', '0.1', '0.2'];
const pLegendLabels = ['2.35', '3.01', '3.67', '4.34', '5'];

// --- layout ---
const page = document.getElementById('page');
const lefts1 = [98, 345, 593, 843, 1094, 1345], rights1 = [337, 585, 833, 1084, 1336, 1586];
const lefts2 = [119, 364, 608, 854, 1101, 1348], rights2 = [355, 599, 843, 1091, 1339, 1586];
const AXIS_W = 44, AXIS_H = 32, PAD_R = 14;
const tickFont = { family: '"Liberation Sans Narrow", "Liberation Sans", sans-serif', size: 17 };

function addText(x, y, str, font, color, align, rotate) {
  const el = document.createElement('div');
  el.className = 'txt';
  el.textContent = str;
  el.style.font = font;
  el.style.color = color || '#000';
  el.style.left = x + 'px';
  el.style.top = y + 'px';
  const tx = align === 'center' ? '-50%' : align === 'right' ? '-100%' : '0';
  el.style.transform = 'translate(' + tx + ',-50%)' + (rotate ? ' rotate(' + rotate + 'deg)' : '');
  page.appendChild(el);
  return el;
}

function addBox(l, t, w, h, cls) {
  const el = document.createElement('div');
  el.className = 'box ' + (cls || '');
  el.style.cssText = 'left:' + l + 'px;top:' + t + 'px;width:' + w + 'px;height:' + h + 'px;';
  page.appendChild(el);
  return el;
}

function withMinors(labels, lo, hi) {
  const vals = labels.map(Number);
  const step = vals[1] - vals[0];
  const out = [];
  for (let k = -1; k <= vals.length; k++) {
    const v = vals[0] + k * step;
    if (v >= lo && v <= hi) out.push({ value: v });
    const m = v + step / 2;
    if (m >= lo && m <= hi) out.push({ value: m, minor: true });
  }
  return out.sort((a, b) => a.value - b.value);
}

function axisOptions(labels, lo, hi, showLabels, fitFn) {
  const ticks = withMinors(labels, lo, hi);
  const isMinor = v => ticks.some(t => t.minor && Math.abs(t.value - v) < 1e-9);
  const labelFor = v => {
    const i = labels.findIndex(l => Math.abs(Number(l) - v) < 1e-9);
    return i >= 0 ? labels[i] : '';
  };
  return {
    type: 'linear', min: lo, max: hi,
    afterBuildTicks: s => { s.ticks = ticks.map(t => ({ value: t.value })); },
    afterFit: fitFn,
    border: { display: false },
    grid: {
      drawTicks: showLabels, tickLength: 4,
      color: c => isMinor(c.tick.value) ? '#f3f3f3' : '#ebebeb',
      lineWidth: c => isMinor(c.tick.value) ? 1 : 2,
      tickColor: c => isMinor(c.tick.value) ? 'rgba(0,0,0,0)' : '#444',
      tickWidth: 1.5
    },
    ticks: {
      display: showLabels, autoSkip: false, maxRotation: 0, minRotation: 0, padding: 2,
      font: tickFont, color: '#4d4d4d',
      callback: v => labelFor(v)
    }
  };
}

function drawPanel(opt) {
  const { l, r, top, bottom, name, rho, p, xs, ys, fit, xLabels, yLabels, xLim, yLim, first } = opt;
  const cv = document.createElement('canvas');
  cv.width = r - l + AXIS_W + PAD_R;
  cv.height = bottom - top + AXIS_H;
  cv.style.left = (l - AXIS_W) + 'px';
  cv.style.top = top + 'px';
  page.appendChild(cv);

  const [fx, fy, fLow, fUp] = fit;
  const toPts = arr => fx.map((x, i) => ({ x: x, y: arr[i] }));
  new Chart(cv, {
    type: 'scatter',
    data: { datasets: [
      { data: toPts(fy), showLine: true, borderColor: '#3366e0', borderWidth: 4, pointRadius: 0, tension: 0 },
      { data: toPts(fUp), showLine: true, borderWidth: 0, pointRadius: 0, fill: '+1', backgroundColor: 'rgba(150,150,150,0.42)' },
      { data: toPts(fLow), showLine: true, borderWidth: 0, pointRadius: 0 },
      { data: xs.map((x, i) => ({ x: x, y: ys[i] })), pointRadius: 4.6, backgroundColor: '#050505', borderWidth: 0 }
    ] },
    options: {
      responsive: false, animation: false, events: [],
      layout: { autoPadding: false, padding: { right: PAD_R, left: 0, top: 0, bottom: 0 } },
      plugins: { legend: { display: false }, tooltip: { enabled: false }, filler: { drawTime: 'beforeDatasetDraw' } },
      scales: {
        x: axisOptions(xLabels, xLim[0], xLim[1], true, s => { s.height = AXIS_H; s.paddingLeft = 0; s.paddingRight = 0; }),
        y: axisOptions(yLabels, yLim[0], yLim[1], first, s => { s.width = AXIS_W; s.paddingTop = 0; s.paddingBottom = 0; })
      }
    }
  });

  addBox(l, top, r - l, bottom - top);
  const strip = addBox(l, top - 29, r - l, 31, 'strip');
  strip.textContent = name;
  const red = '#dc1e32', redFont = '18px "Liberation Sans", sans-serif';
  addText(l + 10, top + 12, "Spearman's rho:", redFont, red);
  addText(l + 26, top + 37, rho, redFont, red);
  addText(l + 26, top + 63, p, redFont, red);
}

function drawGroup(g) {
  cellTypes.forEach((name, i) => drawPanel({
    l: g.lefts[i], r: g.rights[i], top: g.top, bottom: g.bottom, name: name,
    rho: g.rho[i], p: g.p[i], xs: g.xs[i], ys: g.ys, fit: g.fit[i],
    xLabels: g.xTicks[i], yLabels: g.yTicks, xLim: g.xLims[i], yLim: g.yLim, first: i === 0
  }));
  addText(64, g.titleY, 'log2(AQP5 TPM+1)', '18.5px "Liberation Sans", sans-serif', '#111', 'center', -90);
  addText(g.titleX, g.bottom + 31, 'Timer Database score', '18px "Liberation Sans", sans-serif', '#111', 'center');
  addText(4, g.letterY, g.letter, 'bold 50px "Liberation Sans", sans-serif', '#000');
}

drawGroup({
  letter: 'A', letterY: 25, lefts: lefts1, rights: rights1, top: 36, bottom: 416, titleX: 838, titleY: 227,
  rho: rhoA, p: pA, ys: yA, xs: [xA_bcell, xA_cd4, xA_cd8, xA_neut, xA_macro, xA_dc], fit: fitA,
  xTicks: xTicksA, yTicks: yTicksA, yLim: [-.84, 6.1],
  xLims: [[-.017, .41], [-.026, .6], [-.026, .54], [-.016, .394], [-.034, .79], [-.07, 1.66]]
});
drawGroup({
  letter: 'B', letterY: 483, lefts: lefts1, rights: rights1, top: 510, bottom: 889, titleX: 838, titleY: 700,
  rho: rhoB, p: pB, ys: yB, xs: [xB_bcell, xB_cd4, xB_cd8, xB_neut, xB_macro, xB_dc], fit: fitB,
  xTicks: xTicksB, yTicks: yTicksB, yLim: [-.227, 4.74],
  xLims: [[-.053, 1.25], [-.05, 1.14], [-.026, .535], [-.026, .623], [-.02, .44], [-.088, 2.03]]
});
drawGroup({
  letter: 'C', letterY: 959, lefts: lefts2, rights: rights2, top: 983, bottom: 1363, titleX: 849, titleY: 1173,
  rho: rhoC, p: pC, ys: yC, xs: [xC_bcell, xC_cd4, xC_cd8, xC_neut, xC_macro, xC_dc], fit: fitC,
  xTicks: xTicksC, yTicks: yTicksC, yLim: [-.515, 10.72],
  xLims: [[-.039, .883], [-.023, .528], [-.05, 1.043], [-.015, .337], [-.014, .317], [-.077, 1.64]]
});

// --- colour scales ---
const rhoStops = [[-20,'#0000ff'],[-15,'#7a55f7'],[-10,'#b394f5'],[-5,'#dcccfa'],[0,'#ffffff'],[5,'#ffd8c8'],[10,'#ffa88c'],[15,'#ff7555'],[20,'#ff0000']];
const pLow = [111, 152, 136];

function hexRgb(h) { return [1, 3, 5].map(i => parseInt(h.substr(i, 2), 16)); }
function rhoColor(v) {
  for (let i = 1; i < rhoStops.length; i++) {
    if (v <= rhoStops[i][0]) {
      const a = rhoStops[i - 1], b = rhoStops[i], t = (v - a[0]) / (b[0] - a[0]);
      const c1 = hexRgb(a[1]), c2 = hexRgb(b[1]);
      return 'rgb(' + c1.map((c, k) => Math.round(c + (c2[k] - c) * t)).join(',') + ')';
    }
  }
  return '#ff0000';
}
function pColor(v) {
  const t = Math.min(1, Math.max(0, (v - 2.35) / (5 - 2.35)));
  return 'rgb(' + pLow.map(c => Math.round(c + (255 - c) * t)).join(',') + ')';
}

// one little canvas per rho / p pair, used as the point style of the cell
const glyphCache = {};
function cellGlyph(rho, logp) {
  const key = rho + '_' + logp;
  if (glyphCache[key]) return glyphCache[key];
  const w = 41, h = 33;
  const c = document.createElement('canvas');
  c.width = w; c.height = h;
  const g = c.getContext('2d');
  g.fillStyle = rhoColor(rho);
  g.beginPath(); g.moveTo(0, 0); g.lineTo(0, h); g.lineTo(w, h); g.closePath(); g.fill();
  g.fillStyle = pColor(logp);
  g.beginPath(); g.moveTo(0, 0); g.lineTo(w, 0); g.lineTo(w, h); g.closePath(); g.fill();
  g.strokeStyle = 'rgba(205,205,215,0.9)'; g.lineWidth = 1;
  g.beginPath(); g.moveTo(0, 0); g.lineTo(w, h); g.stroke();
  g.strokeStyle = '#b4b4b4'; g.lineWidth = 1.6;
  g.strokeRect(0.5, 0.5, w - 1, h - 1);
  glyphCache[key] = c;
  return c;
}

// --- heatmap ---
const sigLookup = {};
sigCells.forEach(s => { sigLookup[s[0] + '_' + s[1]] = s; });
const cellPoints = [];
genes.forEach((gene, r) => cancers.forEach((cancer, k) => {
  const sig = sigLookup[r + '_' + k];
  cellPoints.push({ x: cancer, y: gene, rho: rhoPct[r][k], logp: sig ? sig[3] : 2.35, stars: sig ? sig[2] : 0 });
}));

const starPlugin = {
  id: 'cellStars',
  afterDatasetsDraw(chart) {
    const { ctx, scales } = chart;
    const halfW = (scales.x.getPixelForValue(1) - scales.x.getPixelForValue(0)) / 2;
    const halfH = (scales.y.getPixelForValue(1) - scales.y.getPixelForValue(0)) / 2;
    ctx.save();
    ctx.fillStyle = '#000';
    ctx.font = '30px "Liberation Sans", sans-serif';
    ctx.textAlign = 'right';
    ctx.textBaseline = 'top';
    cellPoints.forEach(p => {
      if (!p.stars) return;
      const px = scales.x.getPixelForValue(cancers.indexOf(p.x));
      const py = scales.y.getPixelForValue(genes.indexOf(p.y));
      ctx.fillText('*'.repeat(p.stars), px + halfW + 1, py - halfH - 4);
    });
    ctx.restore();
  }
};

const HM_H = 1620;
const hmCanvas = document.createElement('canvas');
hmCanvas.width = 1528;
hmCanvas.height = HM_H;
hmCanvas.style.left = '63px';
hmCanvas.style.top = '1434px';
page.appendChild(hmCanvas);
new Chart(hmCanvas, {
  type: 'scatter',
  plugins: [starPlugin],
  data: { datasets: [{
    data: cellPoints,
    pointStyle: c => cellGlyph(c.raw.rho, c.raw.logp),
    pointRadius: 16, clip: false
  }] },
  options: {
    responsive: false, animation: false, events: [],
    layout: { autoPadding: false, padding: 0 },
    plugins: { legend: { display: false }, tooltip: { enabled: false } },
    scales: {
      x: {
        type: 'category', labels: cancers, offset: true, position: 'bottom',
        afterFit: s => { s.height = HM_H - 1489; s.paddingLeft = 0; s.paddingRight = 0; },
        border: { display: false }, grid: { display: false, drawTicks: false },
        ticks: { autoSkip: false, minRotation: 90, maxRotation: 90, padding: 8, color: '#000', font: { family: '"Liberation Sans", sans-serif', size: 31 } }
      },
      y: {
        type: 'category', labels: genes, offset: true, position: 'right',
        afterFit: s => { s.width = 1528 - 1324; s.paddingTop = 0; s.paddingBottom = 0; },
        border: { display: false }, grid: { display: false, drawTicks: false },
        ticks: { autoSkip: false, padding: 9, color: '#000', font: { family: '"Liberation Sans", sans-serif', size: 31 } }
      }
    }
  }
});
addText(4, 1439, 'D', 'bold 50px "Liberation Sans", sans-serif', '#000');

// --- colour legends ---
function legendBar(l, w, gradient, tickXs, labelXs, labels) {
  const bar = document.createElement('div');
  bar.style.cssText = 'position:absolute;left:' + l + 'px;top:3078px;width:' + w + 'px;height:32px;background:' + gradient + ';';
  page.appendChild(bar);
  tickXs.forEach(x => {
    ['0', '26px'].forEach(t => {
      const m = document.createElement('div');
      m.style.cssText = 'position:absolute;left:' + (x - l - 1) + 'px;top:' + t + ';width:2px;height:6px;background:#fff;';
      bar.appendChild(m);
    });
  });
  labels.forEach((s, i) => addText(labelXs[i], 3126, s, '25px "Liberation Sans", sans-serif', '#000', 'center'));
}
const rhoGradient = 'linear-gradient(to right,' + rhoStops.map(s => s[1] + ' ' + ((s[0] + 20) / 40 * 98.2 + 0.9) + '%').join(',') + ')';
legendBar(488, 293, rhoGradient, [491, 564, 635, 707, 779], [492, 564, 634, 705, 778], rhoLegendLabels);
legendBar(811, 327, 'linear-gradient(to right, rgb(111,152,136), #ffffff)', [814, 897, 978, 1060], [812, 895, 977, 1060, 1141], pLegendLabels);
addText(490, 3058, "Pearson's rho", 'bold 26px "Liberation Sans", sans-serif', '#000');
addText(812, 3058, '\u2212log10(p value)', 'bold 26px "Liberation Sans", sans-serif', '#000');
</script>
</body>
</html>
